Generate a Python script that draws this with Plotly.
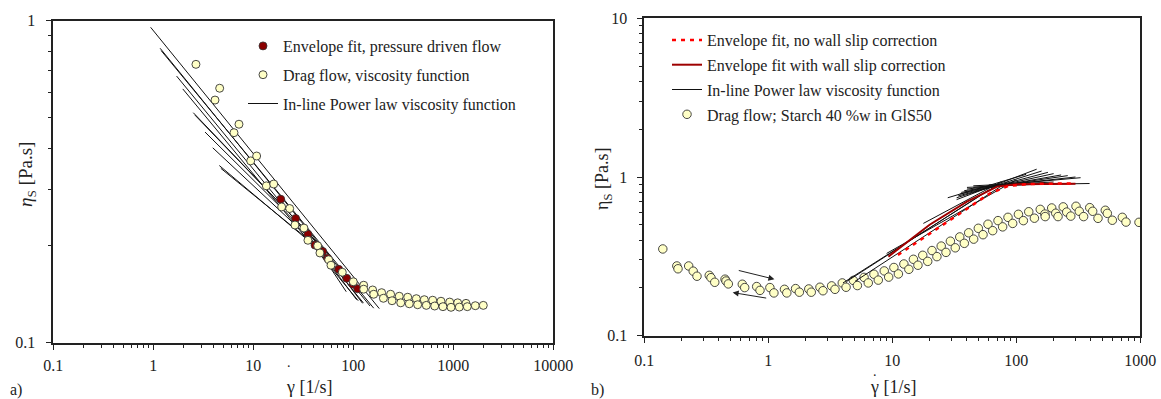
import numpy as np
import plotly.graph_objects as go

FONT = "Liberation Serif"
INK = "#222222"
W, H = 1161, 399

# ---------------- Panel a) data ----------------
drag_a_gamma = [2.67, 4.14, 4.61, 6.41, 7.19, 9.41, 10.8, 13.5, 16.0, 19.2, 23.1, 26.1, 32.1, 35.2,
                44.0, 46.4, 56.7, 59.8, 77.6, 100, 127, 127, 156, 160, 192, 200, 236, 244, 288, 298,
                350, 363, 427, 440, 513, 537, 622, 651, 753, 788, 920, 949, 1106, 1148, 1340, 1380,
                1660, 1995]
drag_a_eta = [0.732, 0.567, 0.617, 0.449, 0.477, 0.367, 0.380, 0.307, 0.311, 0.264, 0.261, 0.232,
              0.227, 0.208, 0.200, 0.190, 0.181, 0.174, 0.1655, 0.1546, 0.1508, 0.1466, 0.1458,
              0.1414, 0.1430, 0.1374, 0.1414, 0.1350, 0.1394, 0.1330, 0.1384, 0.1321, 0.1370,
              0.1312, 0.1360, 0.1306, 0.1355, 0.1300, 0.1345, 0.1294, 0.1337, 0.1288, 0.1330,
              0.1290, 0.1325, 0.1294, 0.1303, 0.1306]

env_a_gamma = [18.8, 26.5, 35.2, 41.4, 49.4, 55.4, 71.4, 85.9, 99.3, 110.6]
env_a_eta = [0.279, 0.243, 0.217, 0.201, 0.192, 0.183, 0.169, 0.1585, 0.152, 0.147]

# in-line power-law segments (start/end of each measured range)
pl_a_g0 = [0.94, 1.17, 1.20, 1.71, 1.97, 2.51, 2.61, 3.29, 3.93, 4.57, 4.73, 40, 45, 40]
pl_a_g1 = [182, 147, 160, 126, 112, 55, 60, 50, 48, 46, 52, 85, 108, 124]
pl_a_e0 = [0.954, 0.821, 0.807, 0.673, 0.614, 0.518, 0.509, 0.451, 0.403, 0.355, 0.348, 0.205, 0.195, 0.210]
pl_a_e1 = [0.1276, 0.130, 0.128, 0.133, 0.135, 0.190, 0.185, 0.195, 0.195, 0.194, 0.190, 0.144, 0.136, 0.1325]

a_xticks = [0.1, 1, 10, 100, 1000, 10000]
a_xticktext = ["0.1", "1", "10", "100", "1000", "10000"]
a_yticks = [0.1, 1]
a_yticktext = ["0.1", "1"]

# ---------------- Panel b) data ----------------
drag_b_gamma = [0.141, 0.183, 0.187, 0.228, 0.248, 0.266, 0.334, 0.345, 0.370, 0.448, 0.456, 0.476,
                0.617, 0.645, 0.806, 0.857, 1.03, 1.11, 1.35, 1.41, 1.66, 1.78, 2.12, 2.22, 2.61,
                2.76, 3.24, 3.45, 3.95, 4.24, 4.85, 5.23, 5.92, 6.40, 7.11, 7.71, 8.61, 9.35, 10.3,
                11.2, 12.4, 13.6, 14.8, 16.1, 17.6, 19.3, 20.9, 22.9, 24.8, 27.1, 29.4, 32.2, 35.0,
                38.1, 41.3, 45.3, 49.4, 53.9, 59.1, 64.5, 71.2, 77.6, 85.7, 93.5, 104, 114, 126,
                140, 156, 170, 171, 193, 208, 217, 239, 255, 275, 303, 322, 349, 391, 413, 456,
                522, 542, 595, 716, 767, 976]
drag_b_eta = [0.352, 0.275, 0.264, 0.275, 0.255, 0.237, 0.240, 0.232, 0.217, 0.227, 0.221, 0.212,
              0.211, 0.201, 0.204, 0.193, 0.201, 0.186, 0.196, 0.186, 0.198, 0.188, 0.197, 0.188,
              0.202, 0.192, 0.206, 0.196, 0.215, 0.202, 0.223, 0.207, 0.233, 0.215, 0.244, 0.224,
              0.256, 0.234, 0.269, 0.245, 0.283, 0.262, 0.303, 0.278, 0.321, 0.294, 0.344, 0.315,
              0.367, 0.335, 0.394, 0.358, 0.419, 0.382, 0.445, 0.406, 0.475, 0.433, 0.504, 0.459,
              0.531, 0.485, 0.557, 0.510, 0.582, 0.531, 0.604, 0.550, 0.625, 0.584, 0.563, 0.638,
              0.591, 0.563, 0.648, 0.601, 0.567, 0.654, 0.608, 0.563, 0.641, 0.608, 0.549, 0.617,
              0.590, 0.534, 0.557, 0.520, 0.518]

noslip_gamma = [11.1, 20.1, 37.4, 61.4, 86.1, 129, 297]
noslip_eta = [0.323, 0.442, 0.613, 0.789, 0.877, 0.904, 0.912]

slip_gamma = [9.3, 20, 40, 70, 100, 300]
slip_eta = [0.315, 0.50, 0.70, 0.87, 0.90, 0.908]

pl_b_g0 = [4.0, 4.3, 5.0, 17.8, 9.0, 33, 33, 34, 35, 36, 38, 40, 45, 28, 60, 45, 40]
pl_b_g1 = [70, 60, 85, 75, 100, 146, 160, 180, 200, 230, 260, 300, 330, 120, 390, 200, 150]
pl_b_e0 = [0.215, 0.22, 0.22, 0.51, 0.33, 0.72, 0.74, 0.76, 0.78, 0.80, 0.82, 0.84, 0.86, 0.74, 0.89, 0.88, 0.86]
pl_b_e1 = [0.89, 0.83, 0.93, 0.93, 0.96, 1.12, 1.09, 1.07, 1.05, 1.03, 1.02, 1.00, 0.99, 1.04, 0.91, 0.93, 0.90]

arrow_tail_gamma = [0.562, 0.989]
arrow_tail_eta = [0.259, 0.172]
arrow_head_gamma = [1.12, 0.516]
arrow_head_eta = [0.227, 0.187]

b_xticks = [0.1, 1, 10, 100, 1000]
b_xticktext = ["0.1", "1", "10", "100", "1000"]
b_yticks = [0.1, 1, 10]
b_yticktext = ["0.1", "1", "10"]

# ---------------- figure ----------------
fig = go.Figure()

yellow = "#FFFFC6"
darkred = "#8B0000"

# panel a traces
for i in range(len(pl_a_g0)):
    fig.add_trace(go.Scatter(
        x=[pl_a_g0[i], pl_a_g1[i]], y=[pl_a_e0[i], pl_a_e1[i]], mode="lines",
        line=dict(color="#111111", width=1), xaxis="x", yaxis="y",
        name="In-line Power law viscosity function", legendgroup="a3", legendrank=3,
        showlegend=(i == 0), legend="legend"))
fig.add_trace(go.Scatter(
    x=env_a_gamma, y=env_a_eta, mode="markers", xaxis="x", yaxis="y",
    marker=dict(size=8, color=darkred, line=dict(color="#333333", width=0.8)),
    name="Envelope fit, pressure driven flow", legendgroup="a1", legendrank=1, legend="legend"))
fig.add_trace(go.Scatter(
    x=drag_a_gamma, y=drag_a_eta, mode="markers", xaxis="x", yaxis="y",
    marker=dict(size=8, color=yellow, line=dict(color="#333333", width=0.9)),
    name="Drag flow, viscosity function", legendgroup="a2", legendrank=2, legend="legend"))

# panel b traces
fig.add_trace(go.Scatter(
    x=drag_b_gamma, y=drag_b_eta, mode="markers", xaxis="x2", yaxis="y2",
    marker=dict(size=8.5, color=yellow, line=dict(color="#333333", width=0.9)),
    name="Drag flow; Starch 40 %w in GlS50", legendgroup="b4", legendrank=4, legend="legend2"))
for i in range(len(pl_b_g0)):
    fig.add_trace(go.Scatter(
        x=[pl_b_g0[i], pl_b_g1[i]], y=[pl_b_e0[i], pl_b_e1[i]], mode="lines",
        line=dict(color="#111111", width=1), xaxis="x2", yaxis="y2",
        name="In-line Power law viscosity function", legendgroup="b3", legendrank=3,
        showlegend=(i == 0), legend="legend2"))
fig.add_trace(go.Scatter(
    x=slip_gamma, y=slip_eta, mode="lines", xaxis="x2", yaxis="y2",
    line=dict(color="#9E0000", width=2),
    name="Envelope fit with wall slip correction", legendgroup="b2", legendrank=2, legend="legend2"))
fig.add_trace(go.Scatter(
    x=noslip_gamma, y=noslip_eta, mode="lines", xaxis="x2", yaxis="y2",
    line=dict(color="#FF0000", width=2.5, dash="4px,5px"),
    name="Envelope fit, no wall slip correction", legendgroup="b1", legendrank=1, legend="legend2"))


def minor_vals(lo, hi):
    return [m * 10.0 ** k for k in range(lo, hi) for m in range(2, 10)]


def log_axis(domain, rng, tickvals, ticktext, minor, anchor, standoff):
    return dict(
        type="log", domain=domain, range=rng, anchor=anchor, automargin=False,
        showline=True, linecolor=INK, linewidth=1.5, mirror=True,
        ticks="outside", ticklen=6, tickwidth=1, tickcolor=INK,
        tickmode="array", tickvals=tickvals, ticktext=ticktext,
        ticklabelstandoff=standoff,
        tickfont=dict(family=FONT, size=16, color=INK),
        minor=dict(ticks="outside", ticklen=4, tickwidth=1, tickcolor=INK,
                   tickvals=minor, showgrid=False),
        showgrid=False, zeroline=False)


ax_l, ax_r = 53.3 / W, 553.3 / W
ay_b, ay_t = 1 - 342.7 / H, 1 - 20.7 / H
bx_l, bx_r = 644.3 / W, 1140.3 / W
by_b, by_t = 1 - 335.7 / H, 1 - 18.3 / H

fig.update_layout(
    width=W, height=H,
    margin=dict(l=0, r=0, t=0, b=0, autoexpand=False),
    paper_bgcolor="white", plot_bgcolor="white",
    font=dict(family=FONT, color=INK, size=16),
    xaxis=log_axis([ax_l, ax_r], [-1, 4], a_xticks, a_xticktext, minor_vals(-1, 4), "y", 1),
    yaxis=log_axis([ay_b, ay_t], [-1, 0], a_yticks, a_yticktext, minor_vals(-1, 0), "x", 7),
    xaxis2=log_axis([bx_l, bx_r], [-1, 3], b_xticks, b_xticktext, minor_vals(-1, 3), "y2", 3),
    yaxis2=log_axis([by_b, by_t], [-1, 1], b_yticks, b_yticktext, minor_vals(-1, 1), "x2", 6),
    legend=dict(x=(283 - 40) / W, y=1 - 29 / H, xanchor="left", yanchor="top",
                bgcolor="rgba(0,0,0,0)", borderwidth=0, traceorder="grouped",
                tracegroupgap=5, font=dict(family=FONT, size=16, color=INK)),
    legend2=dict(x=(707 - 40) / W, y=1 - 23 / H, xanchor="left", yanchor="top",
                 bgcolor="rgba(0,0,0,0)", borderwidth=0, traceorder="grouped",
                 tracegroupgap=1, font=dict(family=FONT, size=16, color=INK)),
)


def label(text, px, py, size, angle=0):
    return dict(text=text, x=px / W, y=1 - py / H, xref="paper", yref="paper",
                xanchor="center", yanchor="middle", textangle=angle, showarrow=False,
                font=dict(family=FONT, size=size, color=INK))


ann = [
    label("<i>η</i><sub>S</sub> [Pa.s]", 27, 175, 19, -90),
    label("η<sub>S</sub> [Pa.s]", 603, 179, 18, -90),
    label("γ [1/s]", 309, 387, 18),
    label("γ [1/s]", 893, 387, 18),
    label(".", 288.6, 362, 14),
    label(".", 874.5, 371, 14),
    label("a)", 16, 390, 16),
    label("b)", 597, 390, 16),
]
# arrows in panel b
for i in range(len(arrow_tail_gamma)):
    ann.append(dict(x=np.log10(arrow_head_gamma[i]), y=np.log10(arrow_head_eta[i]),
                    ax=np.log10(arrow_tail_gamma[i]), ay=np.log10(arrow_tail_eta[i]),
                    xref="x2", yref="y2", axref="x2", ayref="y2", text="",
                    showarrow=True, arrowhead=2, arrowsize=1.2, arrowwidth=1, arrowcolor=INK))
fig.update_layout(annotations=ann)

fig.write_html("out.html", config={"displayModeBar": False},
               post_script="document.body.style.margin='0';document.body.style.overflow='hidden';")
